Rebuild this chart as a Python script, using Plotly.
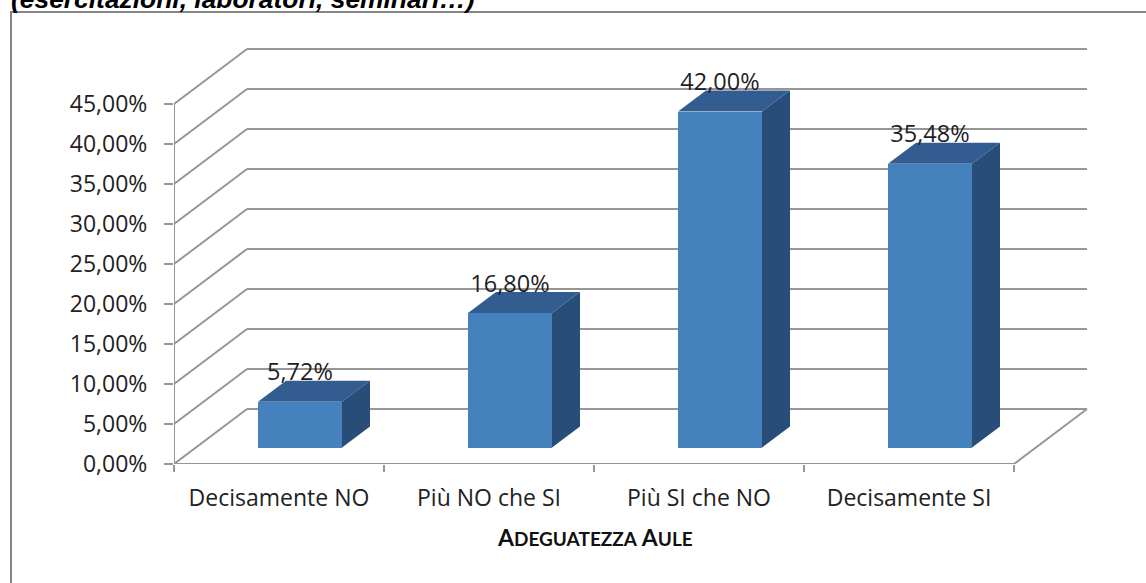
import plotly.graph_objects as go

categories = ["Decisamente NO", "Più NO che SI", "Più SI che NO", "Decisamente SI"]
values = [5.72, 16.80, 42.00, 35.48]
value_labels = ["5,72%", "16,80%", "42,00%", "35,48%"]
y_ticks = [0, 5, 10, 15, 20, 25, 30, 35, 40, 45]
y_tick_labels = ["0,00%", "5,00%", "10,00%", "15,00%", "20,00%", "25,00%", "30,00%", "35,00%", "40,00%", "45,00%"]

# plot-area placement in window pixels
W, H = 1146, 583
L, R, T, B = 174, 1090, 46, 464
PX_X = 210.0   # px per category
PX_Y = 8.0     # px per percentage point
X0 = -0.5
X1 = X0 + (R - L) / PX_X
Y1 = (B - T) / PX_Y
WALL_DX, WALL_DY = 73 / PX_X, 55 / PX_Y
BAR_W, BAR_OFF, BAR_BASE = 0.4, 0.1, 16.5 / PX_Y
BAR_DX, BAR_DY = 28 / PX_X, 21 / PX_Y
GRID = "#969696"
FRONT, TOP, SIDE = "#4581bd", "#335d90", "#274d78"
FONT = "Open Sans"
xs = [i for i in range(len(categories))]
XEND = xs[-1] + 0.5


def px(x):
    return (x - L) / (R - L)


def py(y):
    return (B - y) / (B - T)


shapes = []
# back wall + left wall grid lines
for t in y_ticks:
    shapes.append(dict(type="line", xref="x", yref="y", layer="below", x0=X0, y0=t,
                       x1=X0 + WALL_DX, y1=t + WALL_DY, line=dict(color=GRID, width=2)))
    shapes.append(dict(type="line", xref="x", yref="y", layer="below", x0=X0 + WALL_DX, y0=t + WALL_DY,
                       x1=XEND + WALL_DX, y1=t + WALL_DY, line=dict(color=GRID, width=2)))
# floor right edge and front axes
shapes.append(dict(type="line", xref="x", yref="y", layer="below", x0=XEND, y0=0,
                   x1=XEND + WALL_DX, y1=WALL_DY, line=dict(color=GRID, width=2)))
shapes.append(dict(type="line", xref="x", yref="y", layer="below", x0=X0, y0=0,
                   x1=XEND, y1=0, line=dict(color=GRID, width=2)))
shapes.append(dict(type="line", xref="x", yref="y", layer="below", x0=X0, y0=0,
                   x1=X0, y1=y_ticks[-1], line=dict(color=GRID, width=2)))
# chart frame
shapes.append(dict(type="rect", xref="paper", yref="paper", x0=px(11), y0=py(12), x1=px(W + 5), y1=py(H + 5),
                   line=dict(color="#868686", width=2), fillcolor="rgba(0,0,0,0)", layer="below"))

fig = go.Figure()
fig.add_trace(go.Bar(x=[i + BAR_OFF for i in xs], y=values, base=BAR_BASE, width=BAR_W,
                     marker=dict(color=FRONT, line=dict(width=0)), showlegend=False, hoverinfo="skip"))
for i, v in zip(xs, values):
    a, b = i + BAR_OFF - BAR_W / 2, i + BAR_OFF + BAR_W / 2
    lo, hi = BAR_BASE, BAR_BASE + v
    fig.add_trace(go.Scatter(x=[a, b, b + BAR_DX, a + BAR_DX, a], y=[hi, hi, hi + BAR_DY, hi + BAR_DY, hi],
                             mode="lines", fill="toself", fillcolor=TOP, line=dict(width=0),
                             showlegend=False, hoverinfo="skip"))
    fig.add_trace(go.Scatter(x=[b, b + BAR_DX, b + BAR_DX, b, b], y=[lo, lo + BAR_DY, hi + BAR_DY, hi, lo],
                             mode="lines", fill="toself", fillcolor=SIDE, line=dict(width=0),
                             showlegend=False, hoverinfo="skip"))
fig.add_trace(go.Scatter(x=[i + BAR_OFF for i in xs], y=[BAR_BASE + v + 3.4 for v in values],
                         mode="text", text=value_labels, textposition="middle center",
                         textfont=dict(family=FONT, size=23.5, color="#1f1f1f"),
                         showlegend=False, hoverinfo="skip"))

fig.update_layout(
    width=W, height=H, autosize=False,
    margin=dict(l=L, r=W - R, t=T, b=H - B, pad=0),
    plot_bgcolor="white", paper_bgcolor="white",
    shapes=shapes, showlegend=False, bargap=0,
    xaxis=dict(range=[X0, X1], tickmode="array", tickvals=xs, ticktext=categories, showgrid=False,
               zeroline=False, showline=False, ticks="", ticklabelstandoff=18,
               tickfont=dict(family=FONT, size=23, color="#222222"),
               minor=dict(tickmode="array", tickvals=[X0 + k for k in range(len(categories) + 1)],
                          ticks="outside", ticklen=7, tickwidth=2, tickcolor=GRID, showgrid=False)),
    yaxis=dict(range=[0, Y1], tickmode="array", tickvals=y_ticks, ticktext=y_tick_labels, showgrid=False,
               zeroline=False, showline=False, ticks="outside", ticklen=9, tickwidth=2, tickcolor=GRID,
               ticklabelstandoff=12, tickfont=dict(family=FONT, size=23, color="#222222")),
    annotations=[dict(xref="paper", yref="paper", x=px(9), y=py(-1), xanchor="left", yanchor="middle",
                      showarrow=False, text="<b><i>(esercitazioni, laboratori, seminari…)</i></b>",
                      font=dict(family="Liberation Sans", size=26.4, color="#000000")),
                 dict(xref="paper", yref="paper", x=px(595), y=py(537), xanchor="center", yanchor="middle",
                      showarrow=False,
                      text="<b>A<span style='font-size:19px'>DEGUATEZZA</span> A<span style='font-size:19px'>ULE</span></b>",
                      font=dict(family="Lato", size=23, color="#111111"))],
)
fig.write_html("out.html", post_script="document.body.style.margin='0';", config={"displayModeBar": False})
